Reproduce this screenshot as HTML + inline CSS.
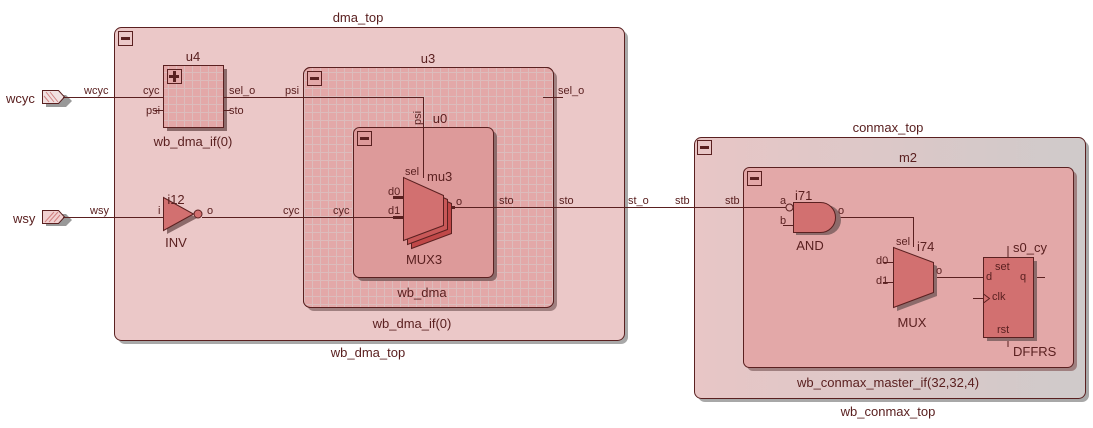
<!DOCTYPE html><html><head><meta charset="utf-8"><style>body{margin:0;background:#fff}svg{display:block}text{font-family:"Liberation Sans",sans-serif;fill:#5a2020}</style></head><body>
<svg width="1093" height="428" viewBox="0 0 1093 428" xmlns="http://www.w3.org/2000/svg">
<defs>
<pattern id="g" width="8" height="8" patternUnits="userSpaceOnUse"><path d="M0 0.5H8M0.5 0V8" stroke="#dcbcbc" stroke-width="1"/></pattern>
<linearGradient id="cg" x1="0" x2="1"><stop offset="0" stop-color="#e8c6c6"/><stop offset="1" stop-color="#cfcaca"/></linearGradient>
</defs>
<g stroke="#5a2020" stroke-width="1" fill="none">
<rect x="118" y="31" width="510" height="313" rx="7" fill="#a8a8a8" stroke="none"/>
<rect x="114.5" y="27.5" width="510" height="313" rx="7" fill="#ebc8c8"/>
<rect x="118.5" y="31.5" width="14" height="14" fill="#ebc8c8"/><path d="M121 38.5h9" stroke-width="3"/>
<rect x="167" y="69" width="60" height="62" fill="#8c6a6a" stroke="none"/>
<rect x="163.5" y="65.5" width="60" height="62" fill="#e3a8a8"/>
<rect x="163.5" y="65.5" width="60" height="62" fill="url(#g)"/>
<rect x="167.5" y="69.5" width="14" height="14" fill="#e3a8a8"/><path d="M169 76.5h10M174.5 71v11" stroke-width="3"/>
<rect x="307" y="71" width="250" height="240" rx="7" fill="#a08080" stroke="none"/>
<rect x="303.5" y="67.5" width="250" height="240" rx="7" fill="#e3a8a8"/>
<rect x="303.5" y="67.5" width="250" height="240" rx="7" fill="url(#g)"/>
<rect x="307.5" y="71.5" width="14" height="14" fill="#e3a8a8"/><path d="M310 78.5h9" stroke-width="3"/>
<rect x="357" y="131" width="140" height="150" rx="6" fill="#8c6a6a" stroke="none"/>
<rect x="353.5" y="127.5" width="140" height="150" rx="6" fill="#dd9a9a"/>
<rect x="357.5" y="131.5" width="14" height="14" fill="#dd9a9a"/><path d="M360 138.5h9" stroke-width="3"/>
<rect x="698" y="141" width="391" height="261" rx="7" fill="#a8a8a8" stroke="none"/>
<rect x="694.5" y="137.5" width="391" height="261" rx="7" fill="url(#cg)"/>
<rect x="697.5" y="140.5" width="14" height="14" fill="#e8c6c6"/><path d="M700 147.5h9" stroke-width="3"/>
<rect x="747" y="171" width="330" height="200" rx="6" fill="#a08080" stroke="none"/>
<rect x="743.5" y="167.5" width="330" height="200" rx="6" fill="#e3a8a8"/>
<rect x="747.5" y="171.5" width="14" height="14" fill="#e3a8a8"/><path d="M750 178.5h9" stroke-width="3"/>
<path d="M46 95h20l6 6-6 6h-20z" fill="#999" stroke="none"/>
<path d="M42.5 90.5h16l6 6.5-6 6.5h-16z" fill="#f0e0e0"/>
<path d="M46 92l8 10M50 92l8 10M44 96l5 6" stroke="#d08080"/>
<path d="M46 214h20l6 6-6 6h-20z" fill="#999" stroke="none"/>
<path d="M42.5 210.5h16l6 6.5-6 6.5h-16z" fill="#f0d0d0"/>
<path d="M54 212l-9 10M58 212l-9 10M60 215l-6 7" stroke="#d08080"/>
<path d="M63 97.5h100M223 97.5h200.5V178M155 110.5h8M223 110.5h8M543 97.5h20"/>
<path d="M63 217.5h100M202 217.5h201"/>
<path d="M443 207.5h344M823 217.5h90.5V247"/>
<path d="M933 277.5h50M783 225.5h10M1008 246v11M1033 277.5h12M1008 337v10M973 298.5h10"/>
<path d="M393 197.5h10M393 217.5h10M443 207.5h12" stroke-width="3"/>
<path d="M167 201v33l30-16z" fill="#8c6a6a" stroke="none"/>
<path d="M163.5 197.5v33l30-16.5z" fill="#d27070"/>
<circle cx="198" cy="214" r="4" fill="#d27070"/>
<path d="M411 185v63l40-15v-30z" fill="#8c6a6a" stroke="none"/>
<path d="M411.5 185.5v63l40-15v-30z" fill="#c04848"/>
<path d="M407.5 181.5v63l40-15v-30z" fill="#c85858"/>
<path d="M403.5 177.5v63l40-15v-30z" fill="#d27070"/>
<path d="M796 205h30a15 15 0 0 1 0 30h-30z" fill="#8c6a6a" stroke="none"/>
<path d="M793.5 202.5h27a15 15 0 0 1 0 30h-27z" fill="#d27070"/>
<circle cx="789.5" cy="207.5" r="3.5" fill="#e3a8a8"/>
<path d="M897 251v60l40-15v-30z" fill="#8c6a6a" stroke="none"/>
<path d="M893.5 247.5v60l40-15v-30z" fill="#d27070"/>
<path d="M883 262.5h10M883 282.5h10"/>
<rect x="987" y="261" width="50" height="80" fill="#8c6a6a" stroke="none"/>
<rect x="983.5" y="257.5" width="50" height="80" fill="#d27070"/>
<path d="M983.5 294l6 4.5-6 4.5"/>
</g>
<g font-size="13">
<text x="358" y="22" text-anchor="middle">dma_top</text>
<text x="368" y="357" text-anchor="middle">wb_dma_top</text>
<text x="193" y="61" text-anchor="middle">u4</text>
<text x="193" y="146" text-anchor="middle">wb_dma_if(0)</text>
<text x="428" y="63" text-anchor="middle">u3</text>
<text x="412" y="328" text-anchor="middle">wb_dma_if(0)</text>
<text x="440" y="123" text-anchor="middle">u0</text>
<text x="422" y="297" text-anchor="middle">wb_dma</text>
<text x="6" y="103">wcyc</text><text x="13" y="223">wsy</text>
<text x="176" y="204" text-anchor="middle">i12</text><text x="176" y="247" text-anchor="middle">INV</text>
<text x="427" y="181">mu3</text><text x="424" y="264" text-anchor="middle">MUX3</text>
<text x="888" y="132" text-anchor="middle">conmax_top</text>
<text x="888" y="416" text-anchor="middle">wb_conmax_top</text>
<text x="908" y="162" text-anchor="middle">m2</text>
<text x="888" y="387" text-anchor="middle">wb_conmax_master_if(32,32,4)</text>
<text x="795" y="200">i71</text><text x="810" y="250" text-anchor="middle">AND</text>
<text x="917" y="251">i74</text><text x="912" y="327" text-anchor="middle">MUX</text>
<text x="1013" y="252">s0_cy</text><text x="1013" y="356">DFFRS</text>
</g>
<g font-size="11">
<text x="84" y="94">wcyc</text><text x="143" y="94">cyc</text><text x="146" y="114">psi</text>
<text x="229" y="94">sel_o</text><text x="229" y="114">sto</text><text x="285" y="94">psi</text>
<text x="558" y="94">sel_o</text>
<text x="90" y="214">wsy</text><text x="158" y="214">i</text><text x="207" y="214">o</text>
<text x="283" y="214">cyc</text><text x="333" y="214">cyc</text>
<text x="388" y="195">d0</text><text x="388" y="214">d1</text><text x="405" y="175">sel</text>
<text x="456" y="205">o</text><text x="499" y="204">sto</text><text x="559" y="204">sto</text>
<text x="628" y="204">st_o</text><text x="675" y="204">stb</text><text x="725" y="204">stb</text>
<text x="780" y="204">a</text><text x="780" y="224">b</text><text x="838" y="214">o</text>
<text x="896" y="245">sel</text><text x="876" y="264">d0</text><text x="876" y="284">d1</text><text x="936" y="274">o</text>
<text x="986" y="280">d</text><text x="1020" y="280">q</text><text x="992" y="300">clk</text>
<text x="995" y="270">set</text><text x="997" y="333">rst</text>
<text x="421" y="125" transform="rotate(-90 421 125)">psi</text>
</g>
</svg></body></html>
